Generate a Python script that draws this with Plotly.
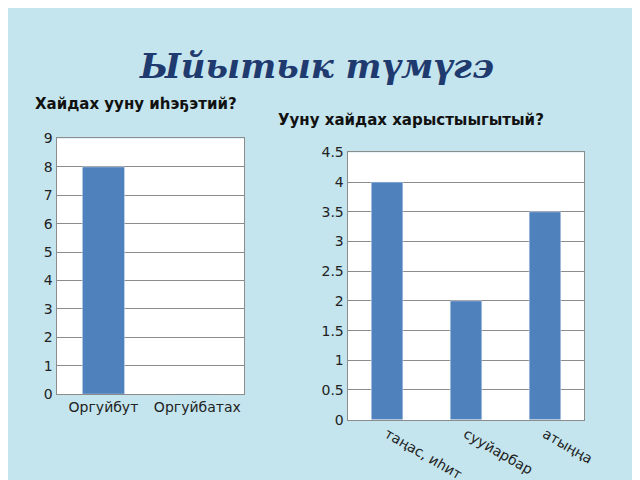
import plotly.graph_objects as go
from plotly.subplots import make_subplots

# left chart: how do you drink water?
left_cats = ['Оргуйбут', 'Оргуйбатах']
left_vals = [8, 0]
# right chart: how do you save water?
right_cats = ['таңас, иһит', 'сууйарбар', 'атыңңа']
right_vals = [4, 2, 3.5]

bar_color = '#4F81BD'

fig = make_subplots(rows=1, cols=2)
fig.add_trace(go.Bar(x=left_cats, y=left_vals, marker_color=bar_color, width=0.45), row=1, col=1)
fig.add_trace(go.Bar(x=right_cats, y=right_vals, marker_color=bar_color, width=0.4), row=1, col=2)

ax_style = dict(showgrid=True, gridcolor='#8c8c8c', showline=True, linecolor='#8c8c8c',
                mirror=True, ticks='', tickfont=dict(family='DejaVu Sans', size=14, color='#222'))
fig.update_xaxes(showline=True, linecolor='#8c8c8c', mirror=True, ticks='',
                 tickfont=dict(family='DejaVu Sans', size=14, color='#222'))
fig.update_xaxes(domain=[0.077, 0.375], row=1, col=1)
fig.update_xaxes(domain=[0.539, 0.915], row=1, col=2)
fig.update_yaxes(ax_style)
fig.update_yaxes(domain=[0.185, 0.736], range=[0, 9], dtick=1, row=1, col=1)
fig.update_yaxes(domain=[0.13, 0.706], range=[0, 4.5], dtick=0.5, row=1, col=2)

fig.update_layout(
    width=640, height=480, showlegend=False, bargap=0.5,
    margin=dict(l=0, r=0, t=0, b=0),
    paper_bgcolor='#c4e5ee', plot_bgcolor='white',
    annotations=[
        dict(text='<b><i>Ыйытык түмүгэ</i></b>', x=0.49, y=0.94, xref='paper', yref='paper',
             showarrow=False, font=dict(family='DejaVu Serif', size=34, color='#1f3a6e')),
        dict(text='<b>Хайдах ууну иһэҕэтий?</b>', x=0.04, y=0.835, xref='paper', yref='paper',
             xanchor='left', showarrow=False, font=dict(family='DejaVu Sans', size=15, color='#111')),
        dict(text='<b>Ууну хайдах харыстыыгытый?</b>', x=0.425, y=0.80, xref='paper', yref='paper',
             xanchor='left', showarrow=False, font=dict(family='DejaVu Sans', size=15, color='#111')),
    ],
)

fig.write_html("out.html")
